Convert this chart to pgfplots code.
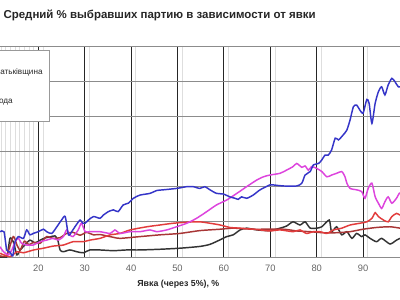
\documentclass[border=0pt]{standalone}
\usepackage{fontspec}
\setmainfont{Liberation Sans}
\usepackage{pgfplots}
\pgfplotsset{compat=1.18}
\definecolor{cblue}{HTML}{3535C8}
\definecolor{cmag}{HTML}{DD44DD}
\definecolor{cred}{HTML}{E23C3C}
\definecolor{cdred}{HTML}{A83636}
\definecolor{cblack}{HTML}{333333}
\begin{document}
\begin{tikzpicture}[x=0.75pt,y=0.75pt]
\fill[white] (0,0) rectangle (400,300);
\begin{scope}
\clip (0,0) rectangle (400,300);
\begin{axis}[at={(-6.075pt,32.25pt)}, anchor=south west, scale only axis,
  width=313.2pt, height=158.25pt,
  xmin=10, xmax=100, ymin=0, ymax=60,
  xtick={20,30,...,90}, minor xtick={11,...,19,21,...,29,31,...,39,41,...,49,51,...,59,61,...,69,71,...,79,81,...,89,91,...,99},
  ytick={0,10,...,60}, yticklabels={},
  grid=both,
  major x grid style={draw=black!85, line width=0.7pt},
  minor x grid style={draw=black!13, line width=0.6pt},
  major y grid style={draw=black!45, line width=0.7pt},
  axis line style={draw=none},
  major tick length=0pt, minor tick length=0pt,
  /pgf/number format/assume math mode=true,
  xticklabel style={font=\fontsize{7}{8}\selectfont, text=black!60, yshift=-2.2pt},
  clip=true,
  every axis plot/.append style={line width=1.1pt, smooth, tension=0.4},
]
\addplot[cblack] coordinates {(11.75,0)(13.2,0)(13.9,5.3)(14.6,4.35)(15.4,0.6)(16.1,2)(17.1,3.4)(18.2,4.8)(19.3,4.0)(20.4,4.8)(21.4,5.4)(22.5,5.7)(23.6,6.0)(24.2,4.8)(24.7,2.0)(25.4,1.5)(26.8,2.0)(28.3,1.5)(29.7,1.2)(31.1,2.0)(33.3,2.0)(36.2,1.8)(39.0,2.0)(41.9,2.0)(46.2,2.2)(50.5,2.5)(54.8,3.0)(57.0,3.6)(59.2,4.9)(60.6,5.8)(62.0,6.3)(63.5,7.7)(64.9,8.2)(67.1,7.7)(69.9,7.5)(72.1,8.2)(73.5,8.8)(74.9,10.0)(76.4,9.1)(77.5,10.0)(78.6,8.2)(80.0,8.2)(81.1,8.6)(82.7,10.5)(83.2,7.2)(84.3,8.6)(85.4,6.3)(86.5,7.2)(87.6,5.3)(88.6,6.7)(89.7,5.8)(90.4,6.3)(91.5,5.3)(92.9,4.35)(94.0,5.3)(95.8,3.7)(97.2,4.8)(98.0,5.3)(98.6,5.6)};
\addplot[cdred] coordinates {(11.75,0.3)(13.2,0.5)(14.6,5.8)(15.4,3.4)(16.1,2.0)(17.0,4.5)(18.0,3.5)(19.0,4.2)(20.4,3.9)(21.8,5.8)(23.2,5.3)(24.7,5.5)(26.1,6.7)(27.5,7.0)(29.0,6.2)(30.4,7.0)(31.9,6.3)(33.3,6.4)(34.7,6.0)(36.2,5.6)(37.6,5.3)(41.9,5.8)(46.2,6.3)(50.5,6.7)(54.8,7.5)(59.2,7.9)(62.0,8.2)(66.3,7.9)(72.8,7.9)(75.7,7.4)(78.6,7.2)(81.4,6.9)(84.3,6.9)(87.2,7.2)(90.0,7.9)(92.9,8.4)(95.8,8.6)(98.0,8.2)(98.6,8.2)};
\addplot[cred] coordinates {(11.75,1.05)(13.9,0.1)(15.4,1.5)(16.8,1.2)(19.0,2.0)(21.1,2.5)(23.2,3.1)(25.4,3.4)(27.5,4.35)(29.7,4.35)(31.1,4.8)(33.3,5.3)(35.5,6.3)(37.6,6.7)(39.8,7.7)(43.4,8.6)(46.2,9.1)(49.1,9.6)(52.0,9.9)(54.8,10.0)(57.0,9.6)(59.2,9.1)(61.3,8.4)(63.5,8.2)(66.3,7.9)(67.8,7.7)(69.9,7.4)(72.1,7.7)(74.9,7.2)(76.4,7.7)(77.8,6.7)(79.3,7.2)(80.7,7.2)(82.2,6.7)(83.6,7.7)(85.4,8.2)(87.2,9.1)(89.3,9.6)(90.8,10.0)(91.9,11.0)(92.6,12.6)(93.3,11.5)(94.4,10.5)(95.4,10.0)(96.2,11.5)(97.2,12.4)(98.0,11.9)(98.6,11.9)};
\addplot[cmag] coordinates {(11.75,2.9)(12.5,1.5)(13.5,0.6)(14.3,2.0)(15.0,4.35)(15.7,5.3)(16.4,3.9)(17.5,3.4)(18.9,3.4)(20.4,4.35)(21.8,4.8)(23.2,5.3)(24.3,4.8)(25.4,5.8)(26.1,7.7)(26.8,6.3)(27.5,5.8)(28.6,7.7)(29.3,9.6)(30.1,7.2)(31.1,7.2)(33.3,7.2)(35.5,6.7)(36.5,7.7)(37.6,6.7)(39.8,7.2)(41.9,7.2)(44.1,7.7)(45.5,7.2)(47.7,7.7)(49.8,8.6)(52.0,9.6)(54.1,11.0)(56.3,12.9)(58.4,14.8)(60.6,16.2)(62.8,18.1)(64.9,20.0)(67.1,21.9)(68.5,22.8)(69.9,23.3)(72.1,23.8)(73.5,24.7)(74.9,25.7)(75.7,26.6)(76.8,25.5)(77.5,25.9)(78.2,24.7)(78.9,25.7)(80.0,25.2)(81.1,24.3)(82.2,22.8)(83.2,23.3)(84.3,23.8)(85.4,24.3)(86.1,22.8)(86.5,21.0)(87.2,19.5)(88.6,19.1)(89.7,18.6)(90.4,16.7)(91.1,19.5)(91.9,21.0)(92.6,17.1)(93.3,15.3)(94.0,13.8)(94.7,15.7)(95.4,17.1)(96.2,15.3)(97.2,16.7)(97.8,18.1)(98.6,18.5)};
\addplot[cblue] coordinates {(11.75,7.2)(12.6,7.2)(13.2,2.0)(13.9,1.4)(14.5,0.3)(15.0,4.35)(15.7,5.8)(16.8,5.3)(17.5,7.7)(18.2,6.3)(18.9,6.7)(20.0,7.2)(21.1,7.9)(21.8,7.2)(22.9,6.7)(24.0,8.6)(25.0,10.5)(25.8,11.5)(26.5,6.3)(27.2,7.2)(27.9,8.6)(29.0,10.5)(29.6,9.6)(30.1,9.6)(30.8,10.5)(31.9,11.5)(33.3,11.0)(34.0,11.9)(35.1,12.9)(36.2,13.4)(37.2,12.9)(38.3,14.8)(39.4,15.3)(40.5,16.7)(41.9,17.6)(44.1,18.1)(45.5,18.9)(46.9,19.1)(49.8,19.5)(52.0,20.0)(53.4,20.0)(54.8,19.5)(55.9,20.0)(57.0,19.1)(58.4,18.1)(59.9,17.9)(61.3,17.1)(62.4,16.7)(63.1,16.4)(63.8,17.1)(64.9,16.7)(66.3,17.6)(67.8,19.1)(69.9,20.5)(70.6,20.5)(72.8,20.2)(75.7,20.2)(76.8,21.0)(77.5,23.3)(78.6,24.3)(79.3,26.2)(80.4,26.6)(81.1,27.6)(81.8,29.0)(82.5,29.0)(83.2,30.4)(84.0,33.8)(84.7,33.3)(85.7,34.7)(86.5,36.1)(87.2,39.0)(87.9,42.7)(88.6,43.2)(89.3,41.8)(90.0,40.9)(90.8,44.8)(91.3,43.7)(91.9,38.0)(92.6,43.7)(93.3,47.0)(94.0,48.4)(94.7,46.1)(95.4,48.9)(96.2,50.8)(96.9,49.8)(97.6,48.4)(98.6,48.4)};
\end{axis}
\draw[black!40, fill=white, line width=0.6pt] (-20,179) rectangle (49,250);
\node[anchor=east, inner sep=0, font=\fontsize{6.1}{7}\selectfont, text=black!85] at (42.8,228) {Батьківщина};
\node[anchor=east, inner sep=0, font=\fontsize{6.1}{7}\selectfont, text=black!85] at (13,199) {Свобода};
\end{scope}
\node[anchor=west, inner sep=0, font=\bfseries\fontsize{8.6}{10}\selectfont, text=black!85] at (3.3,285) {Средний \% выбравших партию в зависимости от явки};
\node[inner sep=0, font=\bfseries\fontsize{6.6}{8}\selectfont, text=black!85] at (178.3,16) {Явка (через 5\%), \%};
\pgfresetboundingbox
\useasboundingbox (0,0) rectangle (400,300);
\end{tikzpicture}
\end{document}
